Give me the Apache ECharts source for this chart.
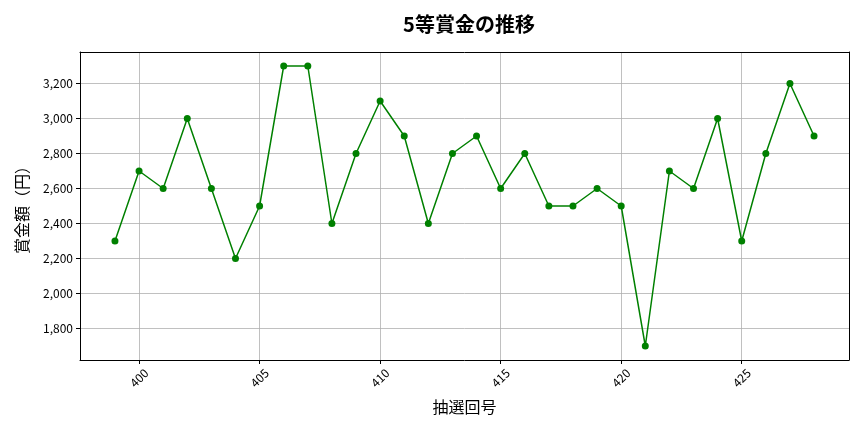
<!DOCTYPE html>
<html>
<head>
<meta charset="utf-8">
<script src="https://cdn.jsdelivr.net/npm/echarts@6/dist/echarts.min.js"></script>
<style>html,body{margin:0;padding:0;background:#fff}#c{width:864px;height:432px}</style>
</head>
<body>
<div id="c"></div>
<script>
const draws = [399,400,401,402,403,404,405,406,407,408,409,410,411,412,413,414,415,416,417,418,419,420,421,422,423,424,425,426,427,428];
const prizes = [2300,2700,2600,3000,2600,2200,2500,3300,3300,2400,2800,3100,2900,2400,2800,2900,2600,2800,2500,2500,2600,2500,1700,2700,2600,3000,2300,2800,3200,2900];
const xTicks = [400,405,410,415,420,425];
const yTicks = [1800,2000,2200,2400,2600,2800,3000,3200];

const FONT = "'Noto Sans CJK JP', 'Noto Sans', sans-serif";
const chart = echarts.init(document.getElementById('c'));
const fmt = v => v.toLocaleString('en-US');
chart.setOption({
  animation: false,
  textStyle: { fontFamily: FONT },
  title: { text: '5等賞金の推移', left: 464, textAlign: 'center', top: 9,
    textStyle: { fontFamily: FONT, fontSize: 20, fontWeight: 'bold', color: '#000' } },
  grid: { left: 80, right: 15, top: 52, bottom: 72 },
  xAxis: [{
    type: 'value', min: 397.55, max: 429.45, minInterval: 5, maxInterval: 5,
    name: '抽選回号', nameLocation: 'middle', nameGap: 39,
    nameTextStyle: { fontFamily: FONT, fontSize: 16, color: '#000' },
    axisLine: { show: true, onZero: false, lineStyle: { color: '#000', width: 1 } },
    axisTick: { show: true, length: 4, customValues: xTicks, lineStyle: { color: '#000' } },
    axisLabel: { customValues: xTicks, rotate: 45, align: 'center', verticalAlign: 'middle', margin: 18,
      fontFamily: FONT, fontSize: 12, color: '#000' },
    splitLine: { show: true, lineStyle: { color: '#b0b0b0', width: 0.8 } }
  }, {
    type: 'value', position: 'top', min: 397.55, max: 429.45,
    axisLine: { show: true, onZero: false, lineStyle: { color: '#000', width: 1 } },
    axisTick: { show: false }, axisLabel: { show: false }, splitLine: { show: false }
  }],
  yAxis: [{
    type: 'value', min: 1620, max: 3380, minInterval: 200, maxInterval: 200,
    name: '賞金額（円）', nameLocation: 'middle', nameGap: 50,
    nameTextStyle: { fontFamily: FONT, fontSize: 16, color: '#000' },
    axisLine: { show: true, onZero: false, lineStyle: { color: '#000', width: 1 } },
    axisTick: { show: true, length: 4, customValues: yTicks, lineStyle: { color: '#000' } },
    axisLabel: { customValues: yTicks, margin: 7, fontFamily: FONT, fontSize: 12, color: '#000',
      formatter: fmt },
    splitLine: { show: true, lineStyle: { color: '#b0b0b0', width: 0.8 } }
  }, {
    type: 'value', position: 'right', min: 1620, max: 3380,
    axisLine: { show: true, onZero: false, lineStyle: { color: '#000', width: 1 } },
    axisTick: { show: false }, axisLabel: { show: false }, splitLine: { show: false }
  }],
  series: [{
    type: 'line',
    data: draws.map((d, i) => [d, prizes[i]]),
    symbol: 'circle', symbolSize: 7,
    lineStyle: { color: '#008000', width: 1.5 },
    itemStyle: { color: '#008000' }
  }]
});
</script>
</body>
</html>
